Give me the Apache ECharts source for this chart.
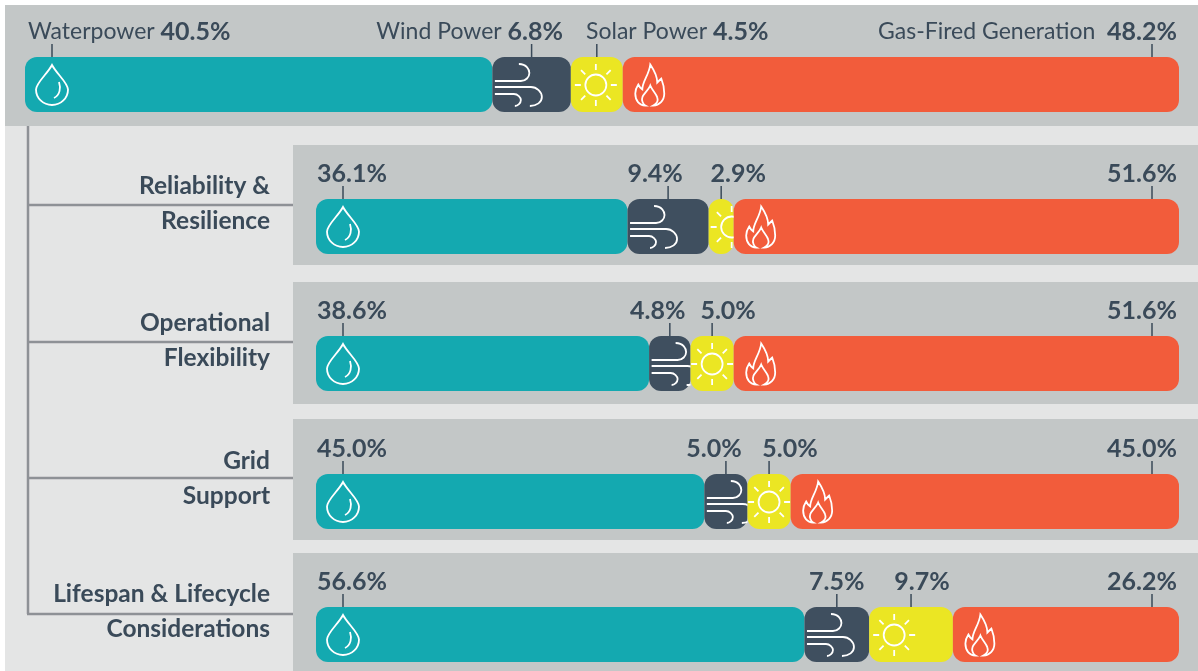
<!DOCTYPE html>
<html>
<head>
<meta charset="utf-8">
<title>Energy sources by criterion</title>
<script src="https://cdn.jsdelivr.net/npm/echarts@6/dist/echarts.min.js"></script>
<style>
  html, body { margin: 0; padding: 0; background: #fff; }
  #chart { width: 1198px; height: 671px; }
</style>
</head>
<body>
<div id="chart"></div>
<script>
const sources = ["Waterpower", "Wind Power", "Solar Power", "Gas-Fired Generation"];
const criteria = ["Reliability &\nResilience", "Operational\nFlexibility", "Grid\nSupport", "Lifespan & Lifecycle\nConsiderations"];

const overallValues = [40.5, 6.8, 4.5, 48.2];
const reliabilityValues = [36.1, 9.4, 2.9, 51.6];
const flexibilityValues = [38.6, 4.8, 5.0, 51.6];
const gridSupportValues = [45.0, 5.0, 5.0, 45.0];
const lifespanValues = [56.6, 7.5, 9.7, 26.2];

const criteriaValues = [reliabilityValues, flexibilityValues, gridSupportValues, lifespanValues];

const colors = ["#14a9b0", "#3f4f5f", "#ebe623", "#f25c3b"];
const textColor = "#3a4a59";
const fontFamily = "Lato";

// bar tops in px, one per row (first row is the overall bar)
const rowTops = [57, 199, 336, 474, 607];
const barHeight = 55;

// how far the wind / solar value labels sit from their leader line, per criteria row
const windShift = [-13, -12, -12, 0];
const solarShift = [17, 16, 21, 11];

const dropPath = "M16,0 C12,8 0,18 0,24.5 C0,33 7,40 16,40 C25,40 32,33 32,24.5 C32,18 20,8 16,0 Z M23,17 C25,23 24,30 18,33";
const windPath = "M24,0 C32,0 34.5,6 34.5,9 C34.5,13 31,17 26,17 L0,17 M0,23 L36,23 C42,23 47,28 47,33 C47,38 42,42 35,42 M0,30 L19,30 C23,30 26,33.5 26,36 C26,39 23,42 20,42";
const sunPath = "M32.5,21 A10.5,10.5 0 1 1 11.5,21 A10.5,10.5 0 1 1 32.5,21 Z M22,0 L22,6 M22,36 L22,42 M1,21 L7,21 M37,21 L43,21 M7.2,6.2 L11.4,10.4 M32.6,31.6 L36.8,35.8 M36.8,6.2 L32.6,10.4 M11.4,31.6 L7.2,35.8";
const flamePath = "M10,41 C4,41 0,36 0,29 C0,25 1,23 3,20 C4,22 5,24 7,25 C7,17 14,10 15,0 C19,6 22,11 22,18 C23,17 25,15 26,14 C28,19 29,24 29,29 C29,36 24,41 18,41 C22,39 23,36 22,33 C21,29 17,26 15,21 C13,26 8,29 7,33 C6,36 8,40 10,41 Z";
const iconPaths = [dropPath, windPath, sunPath, flamePath];
const iconSizes = [[32, 40], [47, 42], [42, 42], [29, 41]];

function iconCenter(kind, x0, x1) {
  const w = x1 - x0;
  if (kind === 0) return x0 + 27;
  if (kind === 1) return x0 + 26;
  if (kind === 2) return x0 + (w < 30 ? 23 : Math.min(w / 2, 25));
  return x0 + 27;
}

function leaderX(kind, x0, x1) {
  if (kind === 0) return x0 + 27;
  if (kind === 3) return x1 - 27;
  return (x0 + x1) / 2;
}

function renderAnnotation(row, values) {
  return function (params, api) {
    const kind = params.dataIndex;
    const start = api.coord([api.value(0), 0]);
    const end = api.coord([api.value(1), 0]);
    const x0 = start[0], x1 = end[0], cy = start[1];
    const top = cy - barHeight / 2;
    const size = iconSizes[kind];
    const cx = iconCenter(kind, x0, x1);
    const lx = leaderX(kind, x0, x1);
    const pct = values[kind].toFixed(1) + "%";

    const children = [
      {
        type: "path",
        shape: {
          pathData: iconPaths[kind],
          layout: "cover",
          x: cx - size[0] / 2,
          y: cy - size[1] / 2 + 0.5,
          width: size[0],
          height: size[1]
        },
        style: { fill: "none", stroke: "#fff", lineWidth: 1.8 },
        clipPath: { type: "rect", shape: { x: x0, y: top, width: x1 - x0, height: barHeight } }
      },
      {
        type: "line",
        shape: { x1: lx, y1: top - 13, x2: lx, y2: top },
        style: { stroke: textColor, lineWidth: 1.5 }
      }
    ];

    if (row === 0) {
      const sep = kind === 3 ? "  " : " ";
      const anchors = [[28, "left"], [563, "right"], [586, "left"], [1177, "right"]];
      children.push({
        type: "text",
        x: anchors[kind][0],
        y: top - 25,
        style: {
          text: "{n|" + sources[kind] + sep + "}{v|" + pct + "}",
          align: anchors[kind][1],
          verticalAlign: "middle",
          rich: {
            n: { fontFamily: fontFamily, fontSize: 23, fill: textColor, color: textColor },
            v: { fontFamily: fontFamily, fontSize: 25, fontWeight: "bold", fill: textColor, color: textColor }
          }
        }
      });
    } else {
      let tx = lx, align = "center";
      if (kind === 0) { tx = x0 + 1; align = "left"; }
      if (kind === 1) tx = lx + windShift[row - 1];
      if (kind === 2) tx = lx + solarShift[row - 1];
      if (kind === 3) { tx = x1 - 2; align = "right"; }
      children.push({
        type: "text",
        x: tx,
        y: top - 25,
        style: {
          text: pct,
          align: align,
          verticalAlign: "middle",
          font: "bold 25px " + fontFamily,
          fill: textColor
        }
      });
    }
    return { type: "group", children: children };
  };
}

const allRows = [overallValues].concat(criteriaValues);
const grids = [], xAxes = [], yAxes = [], seriesList = [];

allRows.forEach(function (values, row) {
  grids.push({
    left: row === 0 ? 25 : 316,
    width: row === 0 ? 1154 : 863,
    top: rowTops[row],
    height: barHeight,
    outerBoundsMode: "none"
  });
  xAxes.push({ type: "value", gridIndex: row, min: 0, max: 100, show: false });
  yAxes.push({
    type: "category",
    gridIndex: row,
    data: [row === 0 ? "All criteria" : criteria[row - 1]],
    axisLine: { show: false },
    axisTick: { show: false },
    axisLabel: {
      show: row !== 0,
      margin: 46,
      align: "right",
      // the blank last line lifts the two text lines above the bar centre
      formatter: function (value) {
        return value.split("\n").map(function (s) { return "{l|" + s + "}"; }).join("\n") + "\n{gap| }";
      },
      rich: {
        l: {
          align: "right",
          lineHeight: 35,
          fontFamily: fontFamily,
          fontWeight: "bold",
          fontSize: 24.5,
          color: textColor
        },
        gap: { lineHeight: 45, fontSize: 10 }
      }
    }
  });

  let running = 0;
  const spans = values.map(function (v, i) {
    const span = [running, running + v, 0, i];
    running += v;
    return span;
  });

  values.forEach(function (v, i) {
    seriesList.push({
      type: "bar",
      name: sources[i],
      xAxisIndex: row,
      yAxisIndex: row,
      stack: "row" + row,
      barWidth: "100%",
      data: [v],
      itemStyle: { color: colors[i], borderRadius: 12 },
      emphasis: { disabled: true }
    });
  });

  seriesList.push({
    type: "custom",
    xAxisIndex: row,
    yAxisIndex: row,
    z: 5,
    clip: false,
    silent: true,
    encode: { x: [0, 1], y: 2 },
    data: spans,
    renderItem: renderAnnotation(row, values)
  });
});

const bandColor = "#c3c7c7";
const paneColor = "#e4e5e5";
const treeColor = "#8e9196";

function band(x, y, w, h, fill) {
  return { type: "rect", z: -10, shape: { x: x, y: y, width: w, height: h }, style: { fill: fill }, silent: true };
}
function treeLine(x1, y1, x2, y2) {
  return { type: "line", z: -5, shape: { x1: x1, y1: y1, x2: x2, y2: y2 }, style: { stroke: treeColor, lineWidth: 2.5 }, silent: true };
}

const chart = echarts.init(document.getElementById("chart"));
chart.setOption({
  animation: false,
  backgroundColor: "#fff",
  tooltip: { show: false },
  graphic: [
    band(5, 5, 1193, 666, paneColor),
    band(5, 5, 1193, 121, bandColor),
    band(293, 145, 905, 120, bandColor),
    band(293, 282, 905, 122, bandColor),
    band(293, 419, 905, 121, bandColor),
    band(293, 553, 905, 118, bandColor),
    treeLine(28, 126, 28, 614),
    treeLine(28, 205, 293, 205),
    treeLine(28, 342, 293, 342),
    treeLine(28, 478, 293, 478),
    treeLine(27, 614, 293, 614)
  ],
  grid: grids,
  xAxis: xAxes,
  yAxis: yAxes,
  series: seriesList
});
</script>
</body>
</html>
